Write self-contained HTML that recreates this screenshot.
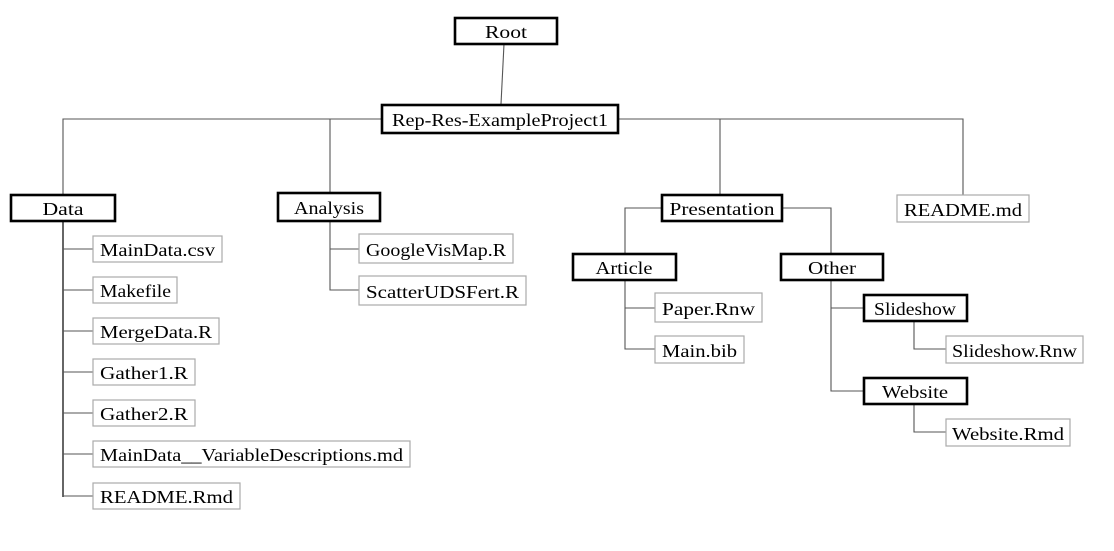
<!DOCTYPE html>
<html><head><meta charset="utf-8"><style>
html,body{margin:0;padding:0;background:#fff;}
svg{display:block;}
text{font-family:"Liberation Serif",serif;font-size:18px;fill:#000;}
.b{fill:#fff;stroke:#000;stroke-width:2.6;}
.f{fill:#fff;stroke:#aaa;stroke-width:1.2;}
.l{stroke:#555;stroke-width:1.1;fill:none;}
.lk{stroke:#000;stroke-width:1.2;fill:none;}
</style></head><body>
<svg width="1114" height="551" viewBox="0 0 1114 551" xmlns="http://www.w3.org/2000/svg">
<line class="l" x1="504" y1="44" x2="501" y2="104"/>
<polyline class="l" points="381,119 63,119 63,194"/>
<polyline class="l" points="330,119 330,193"/>
<polyline class="l" points="619,119 963,119 963,196"/>
<polyline class="l" points="720,119 720,194"/>
<line class="lk" x1="63" y1="222" x2="63" y2="497"/>
<g class="l">
<line x1="63" y1="249" x2="93" y2="249"/>
<line x1="63" y1="290" x2="93" y2="290"/>
<line x1="63" y1="331" x2="93" y2="331"/>
<line x1="63" y1="372" x2="93" y2="372"/>
<line x1="63" y1="413" x2="93" y2="413"/>
<line x1="63" y1="454" x2="93" y2="454"/>
<line x1="63" y1="496" x2="93" y2="496"/>
</g>
<polyline class="l" points="330,222 330,290 359,290"/>
<line class="l" x1="330" y1="249" x2="359" y2="249"/>
<polyline class="l" points="662,208 625,208 625,253"/>
<polyline class="l" points="783,208 831,208 831,253"/>
<polyline class="l" points="625,281 625,349 655,349"/>
<line class="l" x1="625" y1="308" x2="655" y2="308"/>
<polyline class="l" points="831,281 831,391 864,391"/>
<line class="l" x1="831" y1="308" x2="864" y2="308"/>
<polyline class="l" points="914,322 914,349 946,349"/>
<polyline class="l" points="914,405 914,432 946,432"/>

<rect class="b" x="455" y="18" width="102" height="26"/><text x="506" y="38" text-anchor="middle" textLength="42" lengthAdjust="spacingAndGlyphs">Root</text>
<rect class="b" x="382" y="105" width="236" height="28"/><text x="500" y="126" text-anchor="middle" textLength="216" lengthAdjust="spacingAndGlyphs">Rep-Res-ExampleProject1</text>
<rect class="b" x="11" y="195" width="104" height="26"/><text x="63" y="215" text-anchor="middle" textLength="41" lengthAdjust="spacingAndGlyphs">Data</text>
<rect class="b" x="278" y="193" width="102" height="28"/><text x="329" y="214" text-anchor="middle" textLength="70" lengthAdjust="spacingAndGlyphs">Analysis</text>
<rect class="b" x="662" y="195" width="120" height="26"/><text x="722" y="215" text-anchor="middle" textLength="105" lengthAdjust="spacingAndGlyphs">Presentation</text>
<rect class="b" x="573" y="254" width="103" height="26"/><text x="624" y="274" text-anchor="middle" textLength="57" lengthAdjust="spacingAndGlyphs">Article</text>
<rect class="b" x="781" y="254" width="102" height="26"/><text x="832" y="274" text-anchor="middle" textLength="48" lengthAdjust="spacingAndGlyphs">Other</text>
<rect class="b" x="864" y="295" width="103" height="26"/><text x="915" y="315" text-anchor="middle" textLength="82" lengthAdjust="spacingAndGlyphs">Slideshow</text>
<rect class="b" x="864" y="378" width="103" height="26"/><text x="915" y="398" text-anchor="middle" textLength="66" lengthAdjust="spacingAndGlyphs">Website</text>

<rect class="f" x="93" y="236" width="129" height="26"/><text x="100" y="256" textLength="115" lengthAdjust="spacingAndGlyphs">MainData.csv</text>
<rect class="f" x="93" y="277" width="84" height="26"/><text x="100" y="297" textLength="71" lengthAdjust="spacingAndGlyphs">Makefile</text>
<rect class="f" x="93" y="318" width="126" height="26"/><text x="100" y="338" textLength="112" lengthAdjust="spacingAndGlyphs">MergeData.R</text>
<rect class="f" x="93" y="359" width="102" height="26"/><text x="100" y="379" textLength="88" lengthAdjust="spacingAndGlyphs">Gather1.R</text>
<rect class="f" x="93" y="400" width="102" height="26"/><text x="100" y="420" textLength="88" lengthAdjust="spacingAndGlyphs">Gather2.R</text>
<rect class="f" x="93" y="441" width="317" height="26"/><text x="100" y="461" textLength="303" lengthAdjust="spacingAndGlyphs">MainData__VariableDescriptions.md</text>
<rect class="f" x="93" y="483" width="147" height="26"/><text x="100" y="503" textLength="133" lengthAdjust="spacingAndGlyphs">README.Rmd</text>
<rect class="f" x="359" y="234" width="154" height="29"/><text x="366" y="256" textLength="140" lengthAdjust="spacingAndGlyphs">GoogleVisMap.R</text>
<rect class="f" x="359" y="276" width="167" height="29"/><text x="366" y="298" textLength="153" lengthAdjust="spacingAndGlyphs">ScatterUDSFert.R</text>
<rect class="f" x="897" y="195" width="132" height="27"/><text x="904" y="216" textLength="118" lengthAdjust="spacingAndGlyphs">README.md</text>
<rect class="f" x="655" y="293" width="107" height="29"/><text x="662" y="315" textLength="93" lengthAdjust="spacingAndGlyphs">Paper.Rnw</text>
<rect class="f" x="655" y="336" width="89" height="27"/><text x="662" y="357" textLength="75" lengthAdjust="spacingAndGlyphs">Main.bib</text>
<rect class="f" x="946" y="336" width="137" height="27"/><text x="952" y="357" textLength="125" lengthAdjust="spacingAndGlyphs">Slideshow.Rnw</text>
<rect class="f" x="946" y="419" width="124" height="27"/><text x="952" y="440" textLength="112" lengthAdjust="spacingAndGlyphs">Website.Rmd</text>
</svg>
</body></html>
